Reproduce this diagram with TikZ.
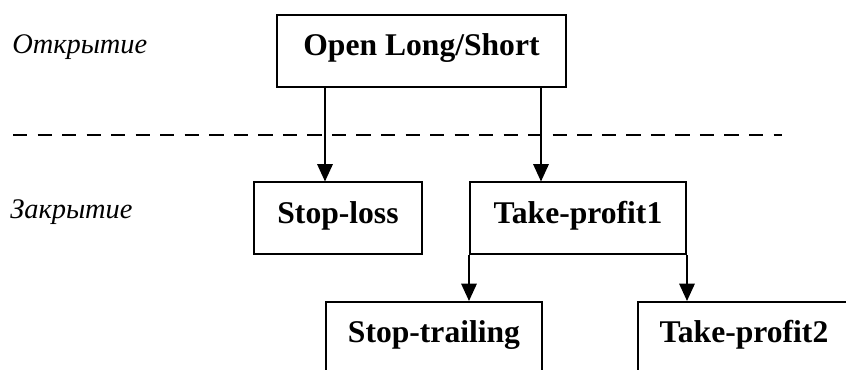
\documentclass[tikz,border=0pt]{standalone}
\usepackage{fontspec}
\setmainfont{Liberation Serif}
\usetikzlibrary{arrows.meta}

\begin{document}
\begin{tikzpicture}[x=0.75pt, y=-0.75pt,
        block/.style={draw, line width=1.5pt, inner sep=0pt, minimum height=54pt,
            text height=24pt, text depth=16.5pt, font=\fontsize{23.7}{28}\selectfont\bfseries},
        stage/.style={anchor=base west, inner sep=0pt, font=\fontsize{21.3}{25}\selectfont\itshape},
        arr/.style={-{Triangle[width=11.5pt, length=13pt]}, line width=1.5pt}]
        \useasboundingbox (0,0) rectangle (846,370);

        \node[stage] (L1) at (12,54) {Открытие};
        \node[stage] (L2) at (10,219) {Закрытие};

        \node[block, minimum width=216.75pt] (OPEN) at (421.5,51) {Open Long/Short};
        \node[block, minimum width=126pt] (SL) at (338,218.5) {Stop-loss};
        \node[block, minimum width=162pt] (TP1) at (578,218.5) {Take-profit1};
        \node[block, minimum width=162pt] (ST) at (434,338) {Stop-trailing};
        \node[block, minimum width=159pt] (TP2) at (744,338) {Take-profit2};

        % border between opening and closing
        \draw[line width=1.5pt, dash pattern=on 10.7pt off 7.7pt] (13,135) -- (782,135);

        \draw[arr] ([xshift=54pt]SL.north west |- OPEN.south) -- ([xshift=54pt]SL.north west);
        \draw[arr] ([xshift=54pt]TP1.north west |- OPEN.south) -- ([xshift=54pt]TP1.north west);
        \draw[arr] (TP1.south west) -- (TP1.south west |- ST.north);
        \draw[arr] (TP1.south east) -- (TP1.south east |- TP2.north);
    \end{tikzpicture}
\end{document}
